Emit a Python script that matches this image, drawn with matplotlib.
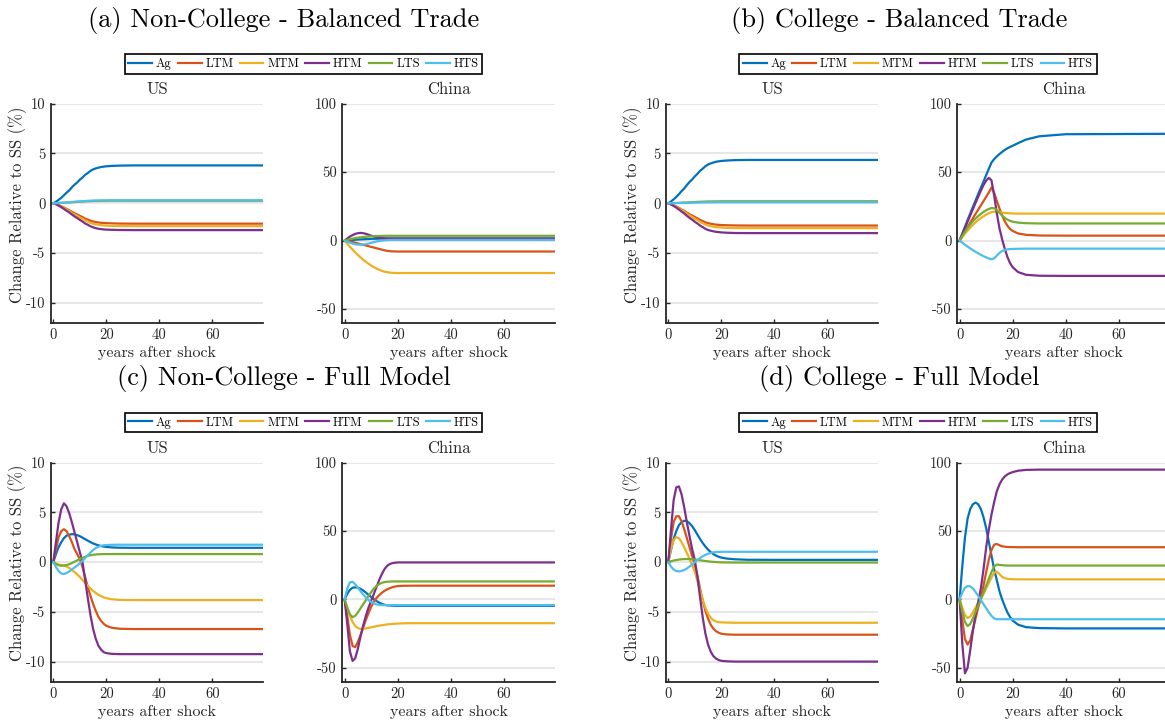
import matplotlib
matplotlib.use("Agg")
import matplotlib.pyplot as plt
from matplotlib.lines import Line2D

plt.rcParams['font.family'] = ['cmr10', 'DejaVu Serif']
plt.rcParams['axes.unicode_minus'] = False
plt.rcParams['axes.formatter.use_mathtext'] = True

# sampling years of the transition paths (flat after ~30 years)
years = list(range(0, 21)) + [22, 25, 30, 40, 79]

sectors = ["Ag", "LTM", "MTM", "HTM", "LTS", "HTS"]
colors = ["#0072BD", "#D95319", "#EDB120", "#7E2F8E", "#77AC30", "#4DBEEE"]

# (a) non-college workers, balanced trade; rows follow `sectors`
us_noncollege_balanced = [
    [0, 0.15, 0.34, 0.55, 0.8, 1.06, 1.29, 1.6, 1.86, 2.09, 2.36, 2.58, 2.85, 3.04, 3.25, 3.4, 3.5, 3.57, 3.64, 3.68, 3.71, 3.75, 3.78, 3.8, 3.8, 3.8],
    [0, -0.08, -0.18, -0.3, -0.43, -0.57, -0.7, -0.86, -1.0, -1.13, -1.27, -1.39, -1.54, -1.64, -1.75, -1.83, -1.89, -1.93, -1.96, -1.98, -2.0, -2.02, -2.04, -2.05, -2.05, -2.05],
    [0, -0.09, -0.21, -0.33, -0.48, -0.64, -0.78, -0.97, -1.13, -1.27, -1.43, -1.56, -1.73, -1.84, -1.97, -2.06, -2.12, -2.16, -2.2, -2.23, -2.25, -2.27, -2.29, -2.3, -2.3, -2.3],
    [0, -0.1, -0.24, -0.39, -0.57, -0.76, -0.92, -1.13, -1.32, -1.49, -1.67, -1.84, -2.03, -2.16, -2.31, -2.42, -2.5, -2.56, -2.6, -2.63, -2.65, -2.67, -2.69, -2.7, -2.7, -2.7],
    [0, 0.01, 0.02, 0.04, 0.05, 0.07, 0.09, 0.1, 0.12, 0.14, 0.15, 0.17, 0.19, 0.2, 0.21, 0.22, 0.23, 0.23, 0.24, 0.24, 0.24, 0.25, 0.25, 0.25, 0.25, 0.25],
    [0, 0.01, 0.03, 0.04, 0.06, 0.08, 0.1, 0.13, 0.15, 0.17, 0.19, 0.2, 0.22, 0.24, 0.26, 0.27, 0.28, 0.28, 0.29, 0.29, 0.29, 0.3, 0.3, 0.3, 0.3, 0.3],
]
china_noncollege_balanced = [
    [0, 0.15, 0.3, 0.45, 0.6, 0.75, 0.85, 0.95, 1.05, 1.15, 1.25, 1.3, 1.35, 1.4, 1.45, 1.5, 1.5, 1.5, 1.5, 1.5, 1.5, 1.5, 1.5, 1.5, 1.5, 1.5],
    [0, -0.3, -0.7, -1.1, -1.6, -2.1, -2.6, -3.1, -3.6, -4.1, -4.6, -5.1, -5.6, -6.1, -6.6, -7.1, -7.5, -7.75, -7.9, -7.95, -8, -8, -8, -8, -8, -8],
    [0, -2.3, -4.5, -6.6, -8.6, -10.5, -12.3, -14, -15.5, -16.9, -18.2, -19.4, -20.4, -21.3, -22.1, -22.7, -23.1, -23.4, -23.55, -23.65, -23.7, -23.7, -23.7, -23.7, -23.7, -23.7],
    [0, 1.5, 2.9, 4.0, 4.9, 5.4, 5.6, 5.4, 4.9, 4.3, 3.6, 3.0, 2.5, 2.1, 1.8, 1.6, 1.5, 1.5, 1.5, 1.5, 1.5, 1.5, 1.5, 1.5, 1.5, 1.5],
    [0, 0.5, 1.0, 1.4, 1.8, 2.1, 2.4, 2.6, 2.8, 3.0, 3.1, 3.2, 3.3, 3.35, 3.4, 3.45, 3.5, 3.5, 3.5, 3.5, 3.5, 3.5, 3.5, 3.5, 3.5, 3.5],
    [0, -0.8, -1.6, -2.2, -2.7, -2.9, -3.0, -2.9, -2.6, -2.2, -1.7, -1.2, -0.7, -0.3, 0.0, 0.2, 0.35, 0.45, 0.5, 0.5, 0.5, 0.5, 0.5, 0.5, 0.5, 0.5],
]

# (b) college workers, balanced trade
us_college_balanced = [
    [0, 0.17, 0.39, 0.63, 0.91, 1.22, 1.48, 1.83, 2.13, 2.39, 2.7, 2.96, 3.26, 3.48, 3.72, 3.89, 4.0, 4.09, 4.17, 4.21, 4.25, 4.29, 4.33, 4.35, 4.35, 4.35],
    [0, -0.09, -0.2, -0.32, -0.47, -0.63, -0.76, -0.94, -1.1, -1.23, -1.39, -1.52, -1.68, -1.79, -1.92, -2.0, -2.06, -2.11, -2.15, -2.17, -2.19, -2.21, -2.23, -2.24, -2.24, -2.24],
    [0, -0.1, -0.23, -0.36, -0.53, -0.7, -0.85, -1.05, -1.23, -1.38, -1.55, -1.7, -1.88, -2.0, -2.14, -2.24, -2.3, -2.35, -2.4, -2.42, -2.44, -2.47, -2.49, -2.5, -2.5, -2.5],
    [0, -0.12, -0.27, -0.44, -0.63, -0.84, -1.02, -1.26, -1.47, -1.65, -1.86, -2.04, -2.25, -2.4, -2.57, -2.69, -2.76, -2.82, -2.87, -2.9, -2.93, -2.96, -2.99, -3.0, -3.0, -3.0],
    [0, 0.01, 0.02, 0.03, 0.04, 0.06, 0.07, 0.08, 0.1, 0.11, 0.12, 0.14, 0.15, 0.16, 0.17, 0.18, 0.18, 0.19, 0.19, 0.19, 0.2, 0.2, 0.2, 0.2, 0.2, 0.2],
    [0, 0, 0.01, 0.01, 0.02, 0.03, 0.03, 0.04, 0.05, 0.06, 0.06, 0.07, 0.08, 0.08, 0.09, 0.09, 0.09, 0.09, 0.1, 0.1, 0.1, 0.1, 0.1, 0.1, 0.1, 0.1],
]
china_college_balanced = [
    [0, 5, 10, 15, 19.8, 24.6, 29.3, 34, 38.6, 43.2, 47.8, 52.5, 57, 59.5, 61.5, 63.2, 64.8, 66.2, 67.4, 68.4, 69.3, 71.2, 73.8, 76.2, 77.7, 78],
    [0, 3.3, 6.6, 9.9, 13.1, 16.3, 19.5, 22.6, 25.7, 28.8, 32, 35.2, 38.8, 35, 29, 23.5, 18.5, 14, 10.8, 8.5, 7.0, 5.2, 4.2, 3.7, 3.6, 3.6],
    [0, 2.5, 5, 7.3, 9.5, 11.5, 13.3, 15, 16.5, 17.8, 19, 20, 20.8, 21.2, 21.1, 20.8, 20.5, 20.2, 20.0, 19.9, 19.8, 19.7, 19.7, 19.7, 19.7, 19.7],
    [0, 4.6, 9.2, 13.8, 18.4, 23, 27.5, 32, 36.5, 40.5, 43.8, 45.8, 44, 33, 20, 9, 1, -6, -12, -16.5, -19.5, -23, -25, -25.7, -25.8, -25.8],
    [0, 3.3, 6.4, 9.2, 11.8, 14.1, 16.1, 17.9, 19.5, 20.9, 22.1, 23.1, 23.8, 23.6, 22.3, 20.3, 18.3, 16.6, 15.3, 14.4, 13.8, 13.1, 12.7, 12.5, 12.5, 12.5],
    [0, -1.5, -3, -4.4, -5.7, -7, -8.2, -9.3, -10.4, -11.4, -12.3, -13.1, -13.7, -13, -11, -9, -7.6, -6.8, -6.4, -6.2, -6.1, -6.0, -5.9, -5.9, -5.9, -5.9],
]

# (c) non-college workers, full model
us_noncollege_full = [
    [0, 0.8, 1.5, 2.0, 2.4, 2.65, 2.75, 2.8, 2.78, 2.7, 2.6, 2.45, 2.3, 2.15, 2.0, 1.87, 1.77, 1.68, 1.61, 1.56, 1.52, 1.47, 1.44, 1.43, 1.43, 1.43],
    [0, 1.3, 2.5, 3.1, 3.3, 3.1, 2.6, 2.0, 1.3, 0.8, 0.3, -0.5, -1.5, -2.5, -3.4, -4.2, -4.9, -5.5, -5.9, -6.2, -6.4, -6.6, -6.7, -6.73, -6.73, -6.73],
    [0, -0.15, -0.25, -0.3, -0.35, -0.45, -0.6, -0.8, -1.0, -1.25, -1.5, -1.8, -2.1, -2.4, -2.65, -2.9, -3.1, -3.28, -3.42, -3.55, -3.63, -3.74, -3.8, -3.82, -3.82, -3.82],
    [0, 2.0, 4.0, 5.3, 5.9, 5.6, 4.9, 4.0, 3.0, 2.0, 1.0, 0, -1.8, -3.6, -5.3, -6.7, -7.7, -8.4, -8.8, -9.05, -9.15, -9.22, -9.25, -9.25, -9.25, -9.25],
    [0, -0.2, -0.32, -0.37, -0.36, -0.3, -0.22, -0.1, 0.03, 0.17, 0.3, 0.42, 0.53, 0.62, 0.68, 0.73, 0.76, 0.78, 0.79, 0.8, 0.8, 0.8, 0.8, 0.8, 0.8, 0.8],
    [0, -0.5, -0.9, -1.15, -1.2, -1.1, -0.95, -0.75, -0.55, -0.35, -0.12, 0.12, 0.4, 0.68, 0.95, 1.2, 1.4, 1.54, 1.63, 1.68, 1.71, 1.73, 1.74, 1.74, 1.74, 1.74],
]
china_noncollege_full = [
    [0, 4, 7, 8.5, 8.8, 8.5, 7.7, 6.5, 5, 3.3, 1.7, 0.2, -1.2, -2.4, -3.3, -3.9, -4.3, -4.5, -4.6, -4.7, -4.7, -4.7, -4.7, -4.7, -4.7, -4.7],
    [0, -12, -26, -34, -35, -31, -26, -20.5, -15, -10, -5.5, -1.8, 1, 3, 4.8, 6.2, 7.3, 8.2, 8.9, 9.4, 9.7, 9.9, 10, 10, 10, 10],
    [0, -6, -12, -16.5, -19.5, -21, -21.5, -21.5, -21.2, -20.8, -20.4, -20, -19.6, -19.2, -18.9, -18.6, -18.3, -18.1, -17.9, -17.8, -17.7, -17.5, -17.4, -17.4, -17.4, -17.4],
    [0, -18, -38, -45, -43, -36, -27, -19, -12, -6, -1, 4, 9, 14, 18.5, 22, 24.5, 25.8, 26.5, 26.8, 27, 27, 27, 27, 27, 27],
    [0, -6, -11, -13, -12, -9.5, -6.5, -3.5, -0.5, 2.5, 5.3, 7.8, 9.8, 11.2, 12.1, 12.6, 12.9, 13, 13.1, 13.1, 13.1, 13.1, 13.1, 13.1, 13.1, 13.1],
    [0, 8, 12.5, 12.8, 11, 8.5, 6, 3.5, 1.5, -0.5, -2, -3, -3.6, -4, -4.2, -4.2, -4.2, -4.2, -4.2, -4.2, -4.2, -4.2, -4.2, -4.2, -4.2, -4.2],
]

# (d) college workers, full model
us_college_full = [
    [0, 1.2, 2.3, 3.1, 3.7, 4.0, 4.15, 4.1, 3.9, 3.6, 3.2, 2.75, 2.3, 1.9, 1.55, 1.25, 1.0, 0.8, 0.65, 0.53, 0.45, 0.35, 0.28, 0.23, 0.22, 0.22],
    [0, 2.3, 4.0, 4.6, 4.6, 4.1, 3.3, 2.4, 1.5, 0.6, -0.3, -1.4, -2.7, -3.9, -4.9, -5.7, -6.3, -6.7, -6.95, -7.1, -7.2, -7.27, -7.3, -7.3, -7.3, -7.3],
    [0, 1.3, 2.2, 2.5, 2.4, 2.0, 1.5, 0.9, 0.3, -0.3, -1.0, -1.9, -2.9, -3.8, -4.6, -5.2, -5.6, -5.85, -5.97, -6.03, -6.06, -6.08, -6.1, -6.1, -6.1, -6.1],
    [0, 3.2, 6.2, 7.5, 7.6, 6.8, 5.5, 4.0, 2.6, 1.3, 0.2, -1.5, -3.6, -5.6, -7.2, -8.3, -9.0, -9.45, -9.7, -9.85, -9.92, -9.97, -10, -10, -10, -10],
    [0, 0.08, 0.15, 0.2, 0.25, 0.28, 0.3, 0.3, 0.3, 0.28, 0.25, 0.22, 0.18, 0.14, 0.1, 0.07, 0.04, 0.02, 0.0, -0.02, -0.03, -0.04, -0.05, -0.05, -0.05, -0.05],
    [0, -0.45, -0.75, -0.9, -0.94, -0.9, -0.8, -0.65, -0.45, -0.25, 0.0, 0.2, 0.4, 0.58, 0.72, 0.83, 0.92, 0.98, 1.01, 1.02, 1.03, 1.03, 1.03, 1.03, 1.03, 1.03],
]
china_college_full = [
    [0, 24, 45, 59, 66, 69.5, 70.7, 69.5, 66, 60, 52, 42, 32, 22, 14, 6, 0, -5, -9.5, -13, -15.5, -18.5, -20.3, -21, -21.2, -21.2],
    [0, -15, -29, -33, -30, -22, -14, -6, 1, 10, 20, 29, 36, 40, 40.5, 39.5, 38.8, 38.5, 38.3, 38.2, 38.2, 38.1, 38.1, 38.1, 38.1, 38.1],
    [0, -6, -11.5, -13.7, -12.5, -9.5, -6, -2.5, 0.5, 4, 8, 12, 16, 19.5, 20.3, 18.5, 16.5, 15.5, 15, 14.8, 14.7, 14.6, 14.6, 14.6, 14.6, 14.6],
    [0, -32, -54, -50, -37, -23, -11, -2, 8, 22, 38, 51, 62, 71, 79, 84, 87.5, 89.8, 91.3, 92.3, 93, 94, 94.6, 94.8, 94.8, 94.8],
    [0, -9, -16.5, -19.5, -18, -14, -9, -4.5, 0, 5, 10, 15, 20, 24, 25.5, 25.2, 25, 24.8, 24.7, 24.7, 24.7, 24.7, 24.7, 24.7, 24.7, 24.7],
    [0, 5, 8.5, 9.7, 9.5, 8, 5.5, 2.5, -0.5, -3.5, -6.5, -9.5, -12, -14, -14.5, -14.5, -14.5, -14.5, -14.5, -14.5, -14.5, -14.5, -14.5, -14.5, -14.5, -14.5],
]

us_ticks = [-10, -5, 0, 5, 10]
china_ticks = [-50, 0, 50, 100]

W, H = 1165, 721
fig = plt.figure(figsize=(W / 100, H / 100), dpi=100)

INK = "#262626"


def px_axes(left, top, right, bottom):
    return fig.add_axes([left / W, 1 - bottom / H, (right - left) / W, (bottom - top) / H])


def style(ax, ticks, ylim):
    ax.set_xlim(-0.87, 79.2)
    ax.set_ylim(*ylim)
    ax.set_xticks([0, 20, 40, 60], ["0", "20", "40", "60"])
    ax.set_yticks(ticks, [str(t) for t in ticks])
    ax.tick_params(direction="in", length=3, width=1, color=INK,
                   labelcolor=INK, labelsize=10.5, pad=4)
    for s in ("top", "right"):
        ax.spines[s].set_visible(False)
    for s in ("left", "bottom"):
        ax.spines[s].set_color(INK)
        ax.spines[s].set_linewidth(1.3)
    ax.yaxis.grid(True, color="#e3e3e3", lw=1.2)
    ax.set_axisbelow(True)
    ax.set_xlabel("years after shock", fontsize=11.5, color=INK, labelpad=3)


def draw_panel(x0, top, us_data, china_data, title, title_x, title_y, leg_x, leg_y):
    bottom = top + 219
    ax_us = px_axes(x0, top, x0 + 212.3, bottom)
    ax_cn = px_axes(x0 + 291.3, top, x0 + 504, bottom)
    for ax, data in ((ax_us, us_data), (ax_cn, china_data)):
        for vals, c in zip(data, colors):
            ax.plot(years, vals, color=c, lw=1.6, solid_capstyle="round")
    style(ax_us, us_ticks, (-12, 10))
    style(ax_cn, china_ticks, (-60, 100))
    ax_us.set_title("US", fontsize=12, color=INK, pad=7)
    ax_cn.set_title("China", fontsize=12, color=INK, pad=7)
    ax_us.set_ylabel("Change Relative to SS (%)", fontsize=12, color=INK)
    ax_us.yaxis.set_label_coords(-0.115, 0.54)
    fig.text(title_x / W, 1 - title_y / H, title, fontsize=19,
             ha="center", va="center")
    handles = [Line2D([], [], color=c, lw=1.6) for c in colors]
    leg = fig.legend(handles, sectors, loc="center",
                     bbox_to_anchor=(leg_x / W, 1 - leg_y / H), ncol=6,
                     fontsize=9, frameon=True, fancybox=False,
                     edgecolor="black", framealpha=1, handlelength=1.9,
                     handletextpad=0.3, columnspacing=0.5, borderpad=0.3)
    leg.get_frame().set_linewidth(1.2)


draw_panel(51, 103.7, us_noncollege_balanced, china_noncollege_balanced,
           "(a) Non-College - Balanced Trade", 284, 21, 303.5, 64)
draw_panel(666, 103.7, us_college_balanced, china_college_balanced,
           "(b) College - Balanced Trade", 899, 21, 918, 64)
draw_panel(51, 462.5, us_noncollege_full, china_noncollege_full,
           "(c) Non-College - Full Model", 284, 379, 303.5, 422.5)
draw_panel(666, 462.5, us_college_full, china_college_full,
           "(d) College - Full Model", 899, 379, 918, 422.5)

fig.savefig("out.png", dpi=100)
